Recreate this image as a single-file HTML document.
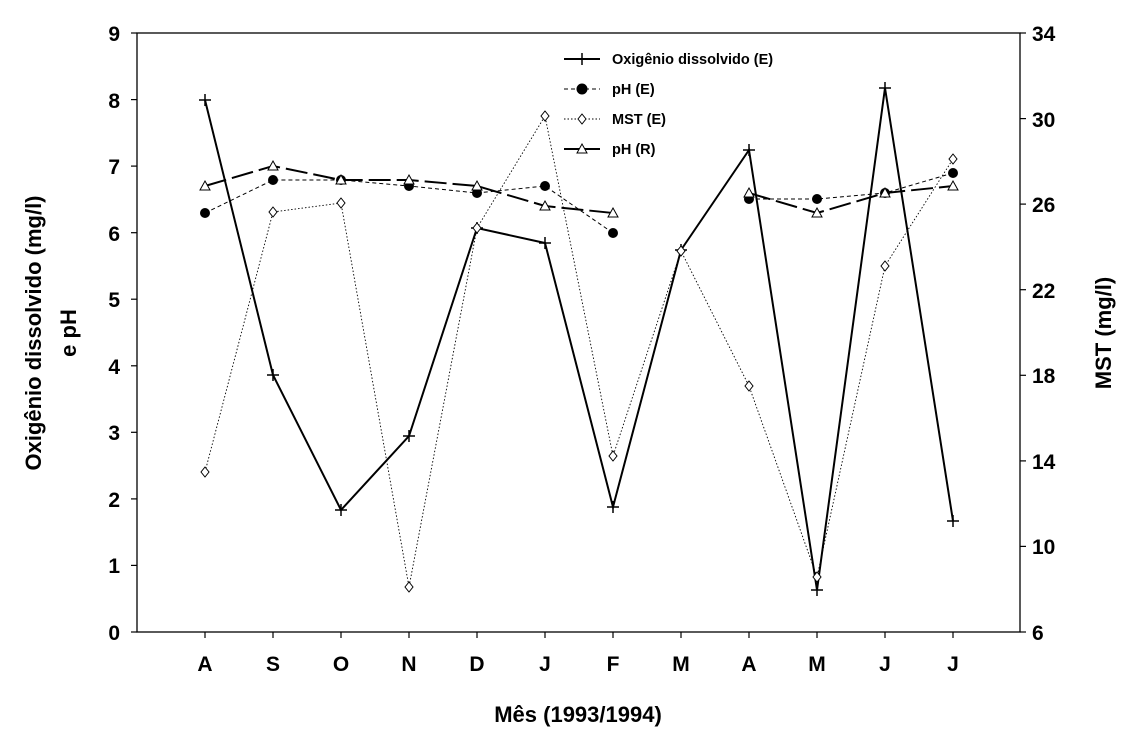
<!DOCTYPE html>
<html><head><meta charset="utf-8"><style>
body{margin:0;background:#fff}
svg text{font-family:"Liberation Sans",Arial,sans-serif;font-weight:bold;fill:#000}
</style></head><body>
<svg width="1133" height="743" viewBox="0 0 1133 743" xmlns="http://www.w3.org/2000/svg">
<rect width="1133" height="743" fill="#fff"/>
<g stroke="#000" stroke-width="1.3" fill="none">
<rect x="137" y="33" width="883" height="599"/>
</g>
<g stroke="#000" stroke-width="1.2">
<line x1="131" y1="632" x2="137" y2="632"/><line x1="131" y1="565.4" x2="137" y2="565.4"/>
<line x1="131" y1="498.9" x2="137" y2="498.9"/><line x1="131" y1="432.3" x2="137" y2="432.3"/>
<line x1="131" y1="365.8" x2="137" y2="365.8"/><line x1="131" y1="299.2" x2="137" y2="299.2"/>
<line x1="131" y1="232.7" x2="137" y2="232.7"/><line x1="131" y1="166.1" x2="137" y2="166.1"/>
<line x1="131" y1="99.6" x2="137" y2="99.6"/><line x1="131" y1="33" x2="137" y2="33"/>
<line x1="1020" y1="632" x2="1026" y2="632"/><line x1="1020" y1="546.4" x2="1026" y2="546.4"/>
<line x1="1020" y1="460.9" x2="1026" y2="460.9"/><line x1="1020" y1="375.3" x2="1026" y2="375.3"/>
<line x1="1020" y1="289.7" x2="1026" y2="289.7"/><line x1="1020" y1="204.1" x2="1026" y2="204.1"/>
<line x1="1020" y1="118.6" x2="1026" y2="118.6"/><line x1="1020" y1="33" x2="1026" y2="33"/>
<line x1="205" y1="632" x2="205" y2="638"/><line x1="273" y1="632" x2="273" y2="638"/>
<line x1="341" y1="632" x2="341" y2="638"/><line x1="409" y1="632" x2="409" y2="638"/>
<line x1="477" y1="632" x2="477" y2="638"/><line x1="545" y1="632" x2="545" y2="638"/>
<line x1="613" y1="632" x2="613" y2="638"/><line x1="681" y1="632" x2="681" y2="638"/>
<line x1="749" y1="632" x2="749" y2="638"/><line x1="817" y1="632" x2="817" y2="638"/>
<line x1="885" y1="632" x2="885" y2="638"/><line x1="953" y1="632" x2="953" y2="638"/>
</g>
<g font-size="21" text-anchor="end">
<text x="120" y="640">0</text><text x="120" y="573">1</text><text x="120" y="507">2</text>
<text x="120" y="440">3</text><text x="120" y="374">4</text><text x="120" y="307">5</text>
<text x="120" y="241">6</text><text x="120" y="174">7</text><text x="120" y="108">8</text><text x="120" y="41">9</text>
</g>
<g font-size="21" text-anchor="start">
<text x="1032" y="640">6</text><text x="1032" y="554">10</text><text x="1032" y="469">14</text>
<text x="1032" y="383">18</text><text x="1032" y="298">22</text><text x="1032" y="212">26</text>
<text x="1032" y="127">30</text><text x="1032" y="41">34</text>
</g>
<g font-size="21" text-anchor="middle">
<text x="205" y="671">A</text><text x="273" y="671">S</text><text x="341" y="671">O</text>
<text x="409" y="671">N</text><text x="477" y="671">D</text><text x="545" y="671">J</text>
<text x="613" y="671">F</text><text x="681" y="671">M</text><text x="749" y="671">A</text>
<text x="817" y="671">M</text><text x="885" y="671">J</text><text x="953" y="671">J</text>
<text x="578" y="722" font-size="22">Mês (1993/1994)</text>
<text transform="translate(41,333) rotate(-90)" font-size="22">Oxigênio dissolvido (mg/l)</text>
<text transform="translate(76,333) rotate(-90)" font-size="22">e pH</text>
<text transform="translate(1111,333) rotate(-90)" font-size="22">MST (mg/l)</text>
</g>
<polyline fill="none" stroke="#000" stroke-width="0.9" stroke-dasharray="1.5,2" points="205,472 273,212 341,203 409,587 477,228 545,116 613,456 681,251 749,386 817,577 885,266 953,159"/>
<polyline fill="none" stroke="#000" stroke-width="1" stroke-dasharray="4,3" points="205,213 273,180 341,180 409,186 477,193 545,186 613,233"/>
<polyline fill="none" stroke="#000" stroke-width="1" stroke-dasharray="4,3" points="749,199 817,199 885,193 953,173"/>
<polyline fill="none" stroke="#000" stroke-width="2" stroke-dasharray="22,6" points="205,186 273,166 341,180 409,180 477,186 545,206 613,213"/>
<polyline fill="none" stroke="#000" stroke-width="2" stroke-dasharray="22,6" points="749,193 817,213 885,193 953,186"/>
<polyline fill="none" stroke="#000" stroke-width="2" points="205,100 273,375 341,510 409,436 477,228 545,243 613,507 681,250 749,150 817,590 885,88 953,521"/>
<g stroke="#000" stroke-width="1.5">
<path d="M199 100h12M205 94v12M267 375h12M273 369v12M335 510h12M341 504v12M403 436h12M409 430v12M471 228h12M477 222v12M539 243h12M545 237v12M607 507h12M613 501v12M675 250h12M681 244v12M743 150h12M749 144v12M811 590h12M817 584v12M879 88h12M885 82v12M947 521h12M953 515v12"/>
</g>
<g fill="#000">
<circle cx="205" cy="213" r="5"/><circle cx="273" cy="180" r="5"/><circle cx="341" cy="180" r="5"/>
<circle cx="409" cy="186" r="5"/><circle cx="477" cy="193" r="5"/><circle cx="545" cy="186" r="5"/>
<circle cx="613" cy="233" r="5"/><circle cx="749" cy="199" r="5"/><circle cx="817" cy="199" r="5"/>
<circle cx="885" cy="193" r="5"/><circle cx="953" cy="173" r="5"/>
</g>
<g fill="#fff" stroke="#000" stroke-width="1">
<path d="M205 467l4 5-4 5-4-5zM273 207l4 5-4 5-4-5zM341 198l4 5-4 5-4-5zM409 582l4 5-4 5-4-5zM477 223l4 5-4 5-4-5zM545 111l4 5-4 5-4-5zM613 451l4 5-4 5-4-5zM681 246l4 5-4 5-4-5zM749 381l4 5-4 5-4-5zM817 572l4 5-4 5-4-5zM885 261l4 5-4 5-4-5zM953 154l4 5-4 5-4-5z"/>
<path d="M205 181l5 9h-10zM273 161l5 9h-10zM341 175l5 9h-10zM409 175l5 9h-10zM477 181l5 9h-10zM545 201l5 9h-10zM613 208l5 9h-10zM749 188l5 9h-10zM817 208l5 9h-10zM885 188l5 9h-10zM953 181l5 9h-10z"/>
</g>
<g stroke="#000">
<line x1="564" y1="59" x2="600" y2="59" stroke-width="2"/><path d="M576 59h12M582 53v12" stroke-width="1.5"/>
<line x1="564" y1="89" x2="600" y2="89" stroke-dasharray="4,3"/><circle cx="582" cy="89" r="5" fill="#000"/>
<line x1="564" y1="119" x2="600" y2="119" stroke-dasharray="1.5,2"/><path d="M582 114l4 5-4 5-4-5z" fill="#fff"/>
<line x1="564" y1="149" x2="600" y2="149" stroke-width="2"/><path d="M582 144l5 9h-10z" fill="#fff"/>
</g>
<g font-size="14.5">
<text x="612" y="64">Oxigênio dissolvido (E)</text>
<text x="612" y="94">pH (E)</text>
<text x="612" y="124">MST (E)</text>
<text x="612" y="154">pH (R)</text>
</g>
</svg>
</body></html>
